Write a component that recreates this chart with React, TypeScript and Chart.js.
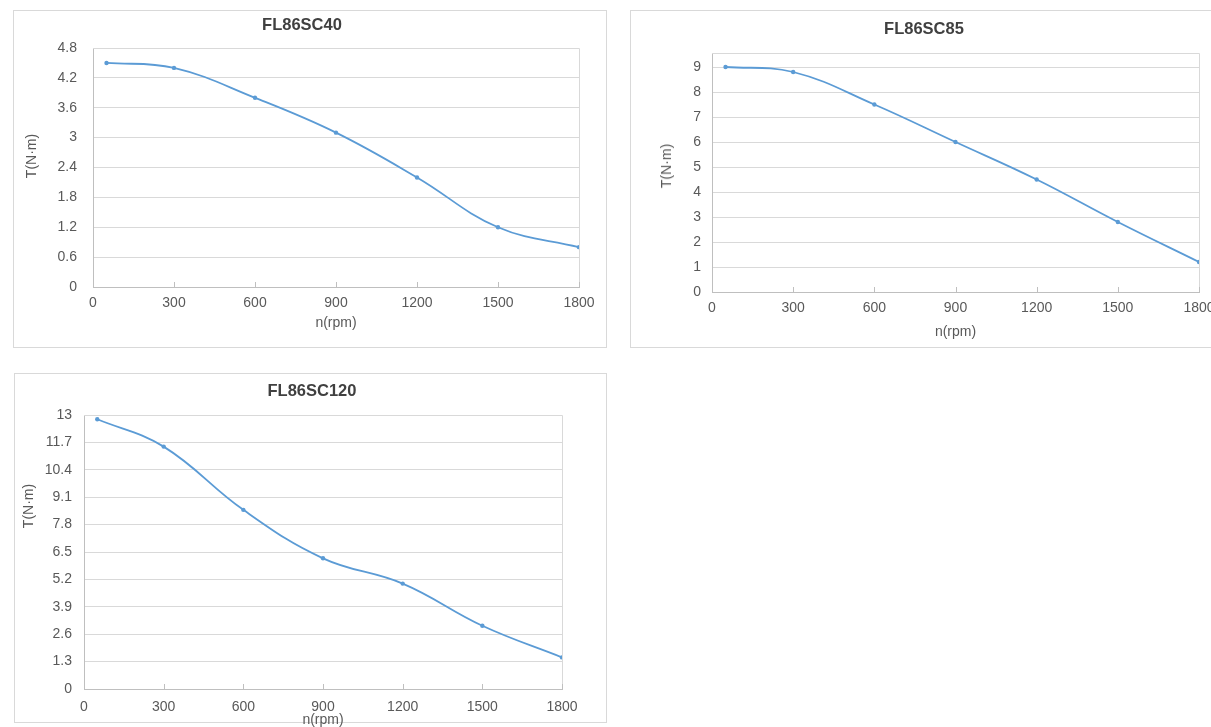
import React, { useEffect, useRef } from "react";
import { Chart, registerables } from "chart.js";

Chart.register(...registerables);

// ---------- data ----------
const speeds = [50, 300, 600, 900, 1200, 1500, 1800];
const xTicks = [0, 300, 600, 900, 1200, 1500, 1800];
const xTickLabels = ["0", "300", "600", "900", "1200", "1500", "1800"];

const torqueSC40 = [4.5, 4.4, 3.8, 3.1, 2.2, 1.2, 0.8];
const torqueSC85 = [9.0, 8.8, 7.5, 6.0, 4.5, 2.8, 1.2];
const torqueSC120 = [12.8, 11.5, 8.5, 6.2, 5.0, 3.0, 1.5];

const yTicksSC40 = [0, 0.6, 1.2, 1.8, 2.4, 3, 3.6, 4.2, 4.8];
const yLabelsSC40 = ["0", "0.6", "1.2", "1.8", "2.4", "3", "3.6", "4.2", "4.8"];
const yTicksSC85 = [0, 1, 2, 3, 4, 5, 6, 7, 8, 9];
const yLabelsSC85 = ["0", "1", "2", "3", "4", "5", "6", "7", "8", "9"];
const yTicksSC120 = [0, 1.3, 2.6, 3.9, 5.2, 6.5, 7.8, 9.1, 10.4, 11.7, 13];
const yLabelsSC120 = ["0", "1.3", "2.6", "3.9", "5.2", "6.5", "7.8", "9.1", "10.4", "11.7", "13"];

const titles = ["FL86SC40", "FL86SC85", "FL86SC120"];
const xTitle = "n(rpm)";
const yTitle = "T(N·m)";

// ---------- styling ----------
const FONT = "'Liberation Sans', Arial, sans-serif";
const TEXT = "#595959";
const GRID = "#d9d9d9";
const AXIS = "#bfbfbf";
const LINE = "#5B9BD5";

const plotFrame = {
  id: "plotFrame",
  afterDatasetsDraw(chart: any) {
    const { ctx, chartArea } = chart;
    const xs = chart.scales.x;
    ctx.save();
    ctx.strokeStyle = GRID;
    ctx.lineWidth = 1;
    ctx.beginPath();
    ctx.moveTo(chartArea.left, chartArea.top + 0.5);
    ctx.lineTo(chartArea.right + 0.5, chartArea.top + 0.5);
    ctx.lineTo(chartArea.right + 0.5, chartArea.bottom);
    ctx.stroke();
    ctx.strokeStyle = AXIS;
    ctx.beginPath();
    xs.ticks.forEach((t: any) => {
      const px = Math.round(xs.getPixelForValue(t.value)) + 0.5;
      ctx.moveTo(px, chartArea.bottom);
      ctx.lineTo(px, chartArea.bottom - 5);
    });
    ctx.stroke();
    ctx.restore();
  },
};

interface Spec {
  values: number[];
  yTicks: number[];
  yLabels: string[];
  yMax: number;
  w: number;
  h: number;
  topPad: number;
  yAxisWidth: number;
  xAxisHeight: number;
  rightPad: number;
  yLabelPad: number;
  xLabelPad: number;
  xTitlePad: number;
}

function makeConfig(s: Spec): any {
  return {
    type: "line",
    data: {
      labels: speeds,
      datasets: [
        {
          data: speeds.map((x, i) => ({ x, y: s.values[i] })),
          borderColor: LINE,
          backgroundColor: LINE,
          borderWidth: 1.8,
          pointRadius: 2.2,
          pointBorderWidth: 0,
          pointBackgroundColor: LINE,
          tension: 0.4,
          fill: false,
        },
      ],
    },
    options: {
      responsive: false,
      animation: false,
      devicePixelRatio: 1,
      layout: { padding: { left: 0, right: s.rightPad, top: s.topPad, bottom: 0 } },
      plugins: {
        legend: { display: false },
        tooltip: { enabled: false },
        title: { display: false },
      },
      scales: {
        x: {
          type: "linear",
          min: 0,
          max: 1800,
          afterBuildTicks: (sc: any) => {
            sc.ticks = xTicks.map((v) => ({ value: v }));
          },
          afterFit: (sc: any) => {
            sc.height = s.xAxisHeight;
          },
          grid: { display: false, drawTicks: false },
          border: { display: true, color: AXIS, width: 1 },
          ticks: {
            color: TEXT,
            font: { family: FONT, size: 14 },
            padding: s.xLabelPad,
            maxRotation: 0,
            autoSkip: false,
            callback: (_v: any, i: number) => xTickLabels[i],
          },
          title: {
            display: true,
            text: xTitle,
            color: TEXT,
            font: { family: FONT, size: 14 },
            padding: { top: 0, bottom: s.xTitlePad },
          },
        },
        y: {
          type: "linear",
          min: 0,
          max: s.yMax,
          afterBuildTicks: (sc: any) => {
            sc.ticks = s.yTicks.map((v) => ({ value: v }));
          },
          afterFit: (sc: any) => {
            sc.width = s.yAxisWidth;
          },
          grid: {
            display: true,
            color: GRID,
            lineWidth: 1,
            drawTicks: false,
          },
          border: { display: true, color: AXIS, width: 1 },
          ticks: {
            color: TEXT,
            font: { family: FONT, size: 14 },
            padding: s.yLabelPad,
            autoSkip: false,
            callback: (_v: any, i: number) => s.yLabels[i],
          },
          title: { display: false },
        },
      },
    },
    plugins: [plotFrame],
  };
}

function Label(props: {
  text: string;
  cx: number;
  cy: number;
  rotate?: boolean;
  bold?: boolean;
  size: number;
  color: string;
}) {
  const { text, cx, cy, rotate, bold, size, color } = props;
  return (
    <div
      style={{
        position: "absolute",
        left: cx,
        top: cy,
        transform: `translate(-50%, -50%)${rotate ? " rotate(-90deg)" : ""}`,
        whiteSpace: "nowrap",
        fontFamily: FONT,
        fontSize: size,
        fontWeight: bold ? "bold" : "normal",
        lineHeight: 1,
        color,
      }}
    >
      {text}
    </div>
  );
}

function ChartBox(props: {
  spec: Spec;
  left: number;
  top: number;
  width: number;
  height: number;
}) {
  const ref = useRef<HTMLCanvasElement | null>(null);
  const { spec, left, top, width, height } = props;
  useEffect(() => {
    if (!ref.current) return;
    const chart = new Chart(ref.current, makeConfig(spec));
    return () => chart.destroy();
  }, []);
  return (
    <div
      style={{
        position: "absolute",
        left,
        top,
        width,
        height,
        border: "1px solid #d9d9d9",
        boxSizing: "border-box",
        background: "#fff",
      }}
    >
      <canvas
        ref={ref}
        width={spec.w}
        height={spec.h}
        style={{ position: "absolute", left: 0, top: 0, width: spec.w, height: spec.h }}
      />
    </div>
  );
}

const spec40: Spec = {
  values: torqueSC40,
  yTicks: yTicksSC40,
  yLabels: yLabelsSC40,
  yMax: 4.8,
  w: 592,
  h: 336,
  topPad: 37,
  yAxisWidth: 79,
  xAxisHeight: 60,
  rightPad: 27,
  yLabelPad: 16,
  xLabelPad: 8,
  xTitlePad: 15,
};

const spec85: Spec = {
  values: torqueSC85,
  yTicks: yTicksSC85,
  yLabels: yLabelsSC85,
  yMax: 9.56,
  w: 592,
  h: 336,
  topPad: 42,
  yAxisWidth: 81,
  xAxisHeight: 55,
  rightPad: 24,
  yLabelPad: 11,
  xLabelPad: 8,
  xTitlePad: 6,
};

const spec120: Spec = {
  values: torqueSC120,
  yTicks: yTicksSC120,
  yLabels: yLabelsSC120,
  yMax: 13,
  w: 591,
  h: 365,
  topPad: 41,
  yAxisWidth: 69,
  xAxisHeight: 50,
  rightPad: 44,
  yLabelPad: 12,
  xLabelPad: 10,
  xTitlePad: 10,
};

export default function App() {
  return (
    <div
      style={{
        position: "fixed",
        left: 0,
        top: 0,
        width: 1211,
        height: 727,
        overflow: "hidden",
        background: "#fff",
      }}
    >
      <ChartBox spec={spec40} left={13} top={10} width={594} height={338} />
      <ChartBox spec={spec85} left={630} top={10} width={594} height={338} />
      <ChartBox spec={spec120} left={14} top={373} width={593} height={350} />

      <Label text={titles[0]} cx={302} cy={24} bold size={16.5} color="#404040" />
      <Label text={titles[1]} cx={924} cy={28} bold size={16.5} color="#404040" />
      <Label text={titles[2]} cx={312} cy={390} bold size={16.5} color="#404040" />

      <Label text={yTitle} cx={31} cy={156} rotate size={14} color={TEXT} />
      <Label text={yTitle} cx={666} cy={166} rotate size={14} color={TEXT} />
      <Label text={yTitle} cx={28} cy={506} rotate size={14} color={TEXT} />
    </div>
  );
}
